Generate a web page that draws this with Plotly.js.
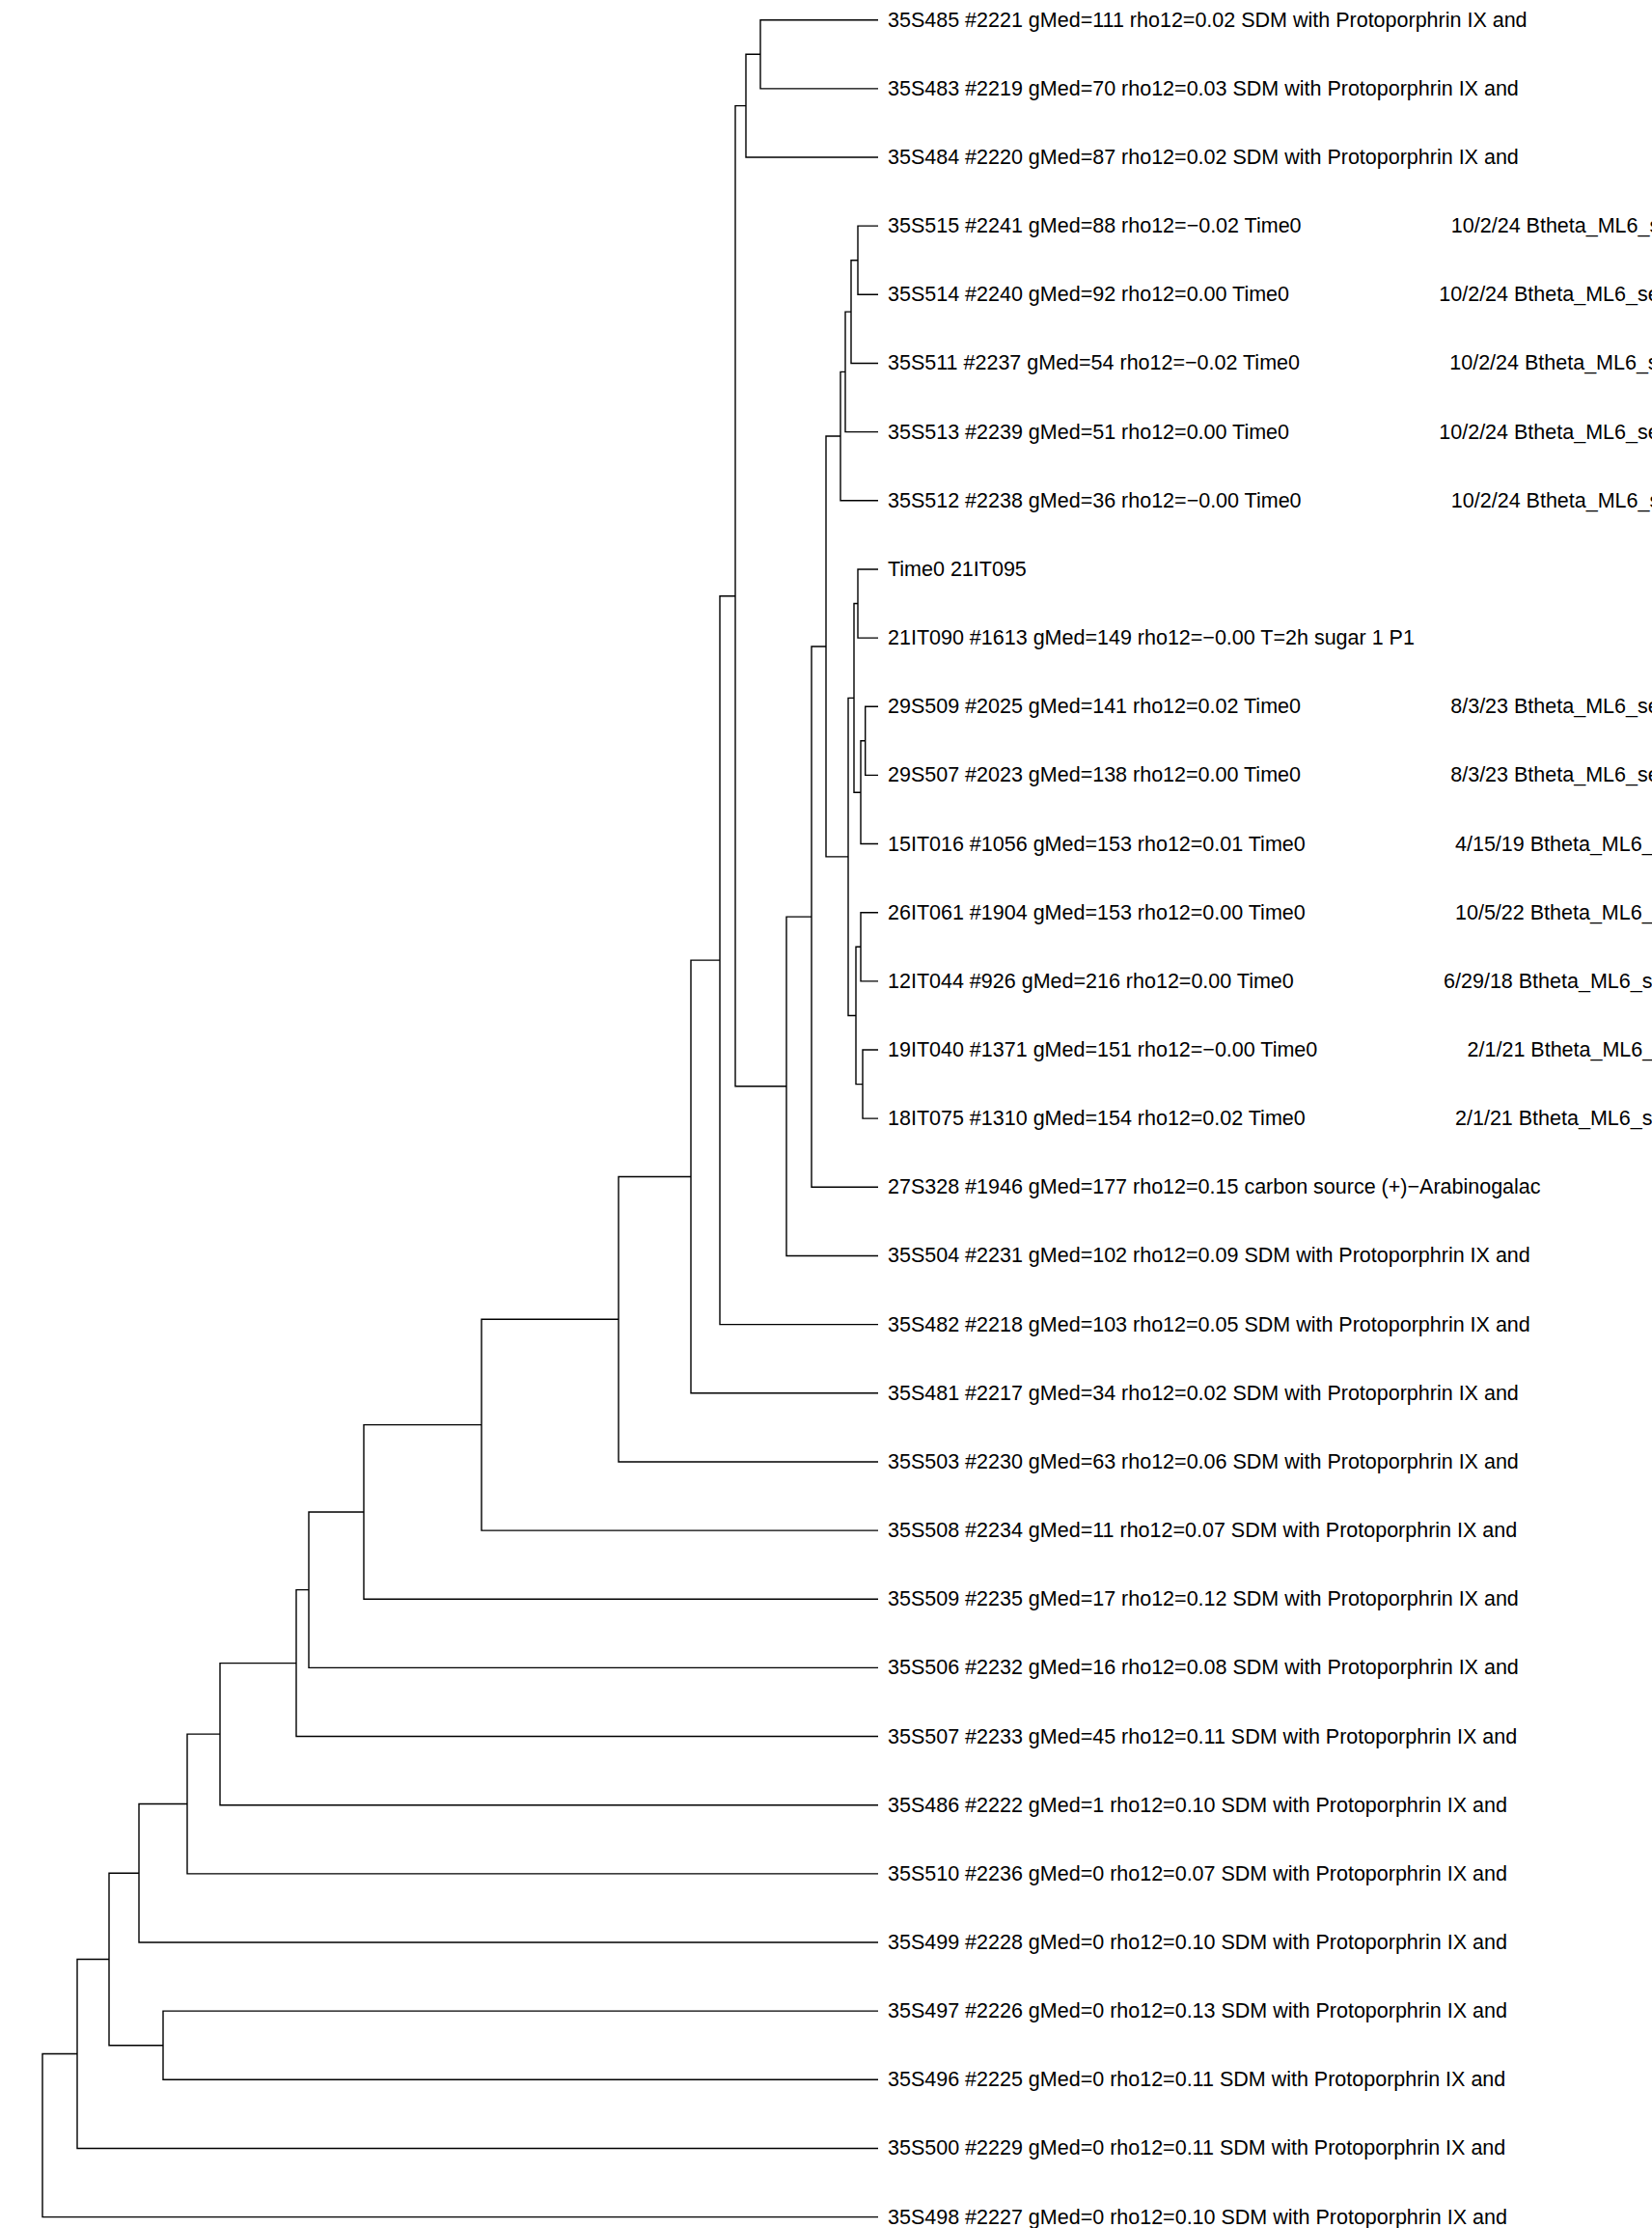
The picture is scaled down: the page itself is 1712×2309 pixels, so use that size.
<!DOCTYPE html>
<html>
<head>
<meta charset="utf-8">
<script src="https://cdn.plot.ly/plotly-3.0.1.min.js"></script>
<style>html,body{margin:0;padding:0;background:#fff;overflow:hidden}</style>
</head>
<body>
<div id="chart" style="width:1712px;height:2309px"></div>
<script>
// Leaf labels, top to bottom (dendrogram order)
const leafLabels = [
  "35S485 #2221 gMed=111 rho12=0.02 SDM with Protoporphrin IX and",
  "35S483 #2219 gMed=70 rho12=0.03 SDM with Protoporphrin IX and",
  "35S484 #2220 gMed=87 rho12=0.02 SDM with Protoporphrin IX and",
  "35S515 #2241 gMed=88 rho12=\u22120.02 Time0",
  "35S514 #2240 gMed=92 rho12=0.00 Time0",
  "35S511 #2237 gMed=54 rho12=\u22120.02 Time0",
  "35S513 #2239 gMed=51 rho12=0.00 Time0",
  "35S512 #2238 gMed=36 rho12=\u22120.00 Time0",
  "Time0 21IT095",
  "21IT090 #1613 gMed=149 rho12=\u22120.00 T=2h sugar 1 P1",
  "29S509 #2025 gMed=141 rho12=0.02 Time0",
  "29S507 #2023 gMed=138 rho12=0.00 Time0",
  "15IT016 #1056 gMed=153 rho12=0.01 Time0",
  "26IT061 #1904 gMed=153 rho12=0.00 Time0",
  "12IT044 #926 gMed=216 rho12=0.00 Time0",
  "19IT040 #1371 gMed=151 rho12=\u22120.00 Time0",
  "18IT075 #1310 gMed=154 rho12=0.02 Time0",
  "27S328 #1946 gMed=177 rho12=0.15 carbon source (+)\u2212Arabinogalac",
  "35S504 #2231 gMed=102 rho12=0.09 SDM with Protoporphrin IX and",
  "35S482 #2218 gMed=103 rho12=0.05 SDM with Protoporphrin IX and",
  "35S481 #2217 gMed=34 rho12=0.02 SDM with Protoporphrin IX and",
  "35S503 #2230 gMed=63 rho12=0.06 SDM with Protoporphrin IX and",
  "35S508 #2234 gMed=11 rho12=0.07 SDM with Protoporphrin IX and",
  "35S509 #2235 gMed=17 rho12=0.12 SDM with Protoporphrin IX and",
  "35S506 #2232 gMed=16 rho12=0.08 SDM with Protoporphrin IX and",
  "35S507 #2233 gMed=45 rho12=0.11 SDM with Protoporphrin IX and",
  "35S486 #2222 gMed=1 rho12=0.10 SDM with Protoporphrin IX and",
  "35S510 #2236 gMed=0 rho12=0.07 SDM with Protoporphrin IX and",
  "35S499 #2228 gMed=0 rho12=0.10 SDM with Protoporphrin IX and",
  "35S497 #2226 gMed=0 rho12=0.13 SDM with Protoporphrin IX and",
  "35S496 #2225 gMed=0 rho12=0.11 SDM with Protoporphrin IX and",
  "35S500 #2229 gMed=0 rho12=0.11 SDM with Protoporphrin IX and",
  "35S498 #2227 gMed=0 rho12=0.10 SDM with Protoporphrin IX and"
];

// Trailing description of each leaf (empty when none)
const leafNotes = [
  "", "", "",
  "10/2/24 Btheta_ML6_se", "10/2/24 Btheta_ML6_se", "10/2/24 Btheta_ML6_se",
  "10/2/24 Btheta_ML6_se", "10/2/24 Btheta_ML6_se",
  "", "",
  "8/3/23 Btheta_ML6_se", "8/3/23 Btheta_ML6_se", "4/15/19 Btheta_ML6_se",
  "10/5/22 Btheta_ML6_se", "6/29/18 Btheta_ML6_se", "2/1/21 Btheta_ML6_se",
  "2/1/21 Btheta_ML6_se",
  "", "", "", "", "", "", "", "", "", "", "", "", "", "", "", ""
];

// Merge table (hclust style): negative = leaf number (1-based), positive = earlier merge
const mergeLeft  = [-11, -16, -14, 1, -4, -9, 3, 6, 5, 8, 9, 11, 12, 13, 14, -1, 16, 17, 18, 19, 20, 21, 22, 23, 24, 25, 26, -30, 27, 29, 30, 31];
const mergeRight = [-12, -17, -15, -13, -5, -10, 2, 4, -6, 7, -7, -8, 10, -18, -19, -2, -3, 15, -20, -21, -22, -23, -24, -25, -26, -27, -28, -31, -29, 28, -32, -33];
const mergeHeight = [0.0133, 0.016, 0.018, 0.018, 0.021, 0.021, 0.023, 0.025, 0.028, 0.031, 0.034, 0.039, 0.054, 0.069, 0.095, 0.122, 0.137, 0.148, 0.164, 0.194, 0.269, 0.411, 0.533, 0.590, 0.603, 0.682, 0.716, 0.741, 0.766, 0.797, 0.830, 0.866];

// ---- build segments ----
const nodeY = [];
function ref(r) {
  if (r < 0) return { y: -r - 1, h: 0 };
  return { y: nodeY[r - 1], h: mergeHeight[r - 1] };
}
const xs = [], ys = [];
for (let k = 0; k < mergeHeight.length; k++) {
  const a = ref(mergeLeft[k]), b = ref(mergeRight[k]), h = mergeHeight[k];
  xs.push(a.h, h, h, b.h, null);
  ys.push(a.y, a.y, b.y, b.y, null);
  nodeY[k] = (a.y + b.y) / 2;
}

const FONT = "Liberation Sans, Arial, Helvetica, sans-serif";
const pad = "\u00A0".repeat(26);
const annotations = leafLabels.map((lab, i) => ({
  x: 0, y: i, xref: "x", yref: "y",
  text: leafNotes[i] ? lab + pad + leafNotes[i] : lab,
  showarrow: false, xanchor: "left", yanchor: "middle", xshift: 8.3,
  font: { family: FONT, size: 21.5, color: "#000" }
}));

const trace = {
  x: xs, y: ys, type: "scatter", mode: "lines",
  line: { color: "#000", width: 1.4 },
  hoverinfo: "skip", showlegend: false, connectgaps: false
};

const layout = {
  width: 1712, height: 2309,
  margin: { l: 0, r: 0, t: 0, b: 0, pad: 0 },
  paper_bgcolor: "#fff", plot_bgcolor: "#fff",
  xaxis: { range: [0.910, -0.802], visible: false, fixedrange: true },
  yaxis: { range: [32.16, -0.291], visible: false, fixedrange: true },
  annotations: annotations,
  showlegend: false
};

Plotly.newPlot("chart", [trace], layout, { displayModeBar: false, staticPlot: true });
</script>
</body>
</html>
